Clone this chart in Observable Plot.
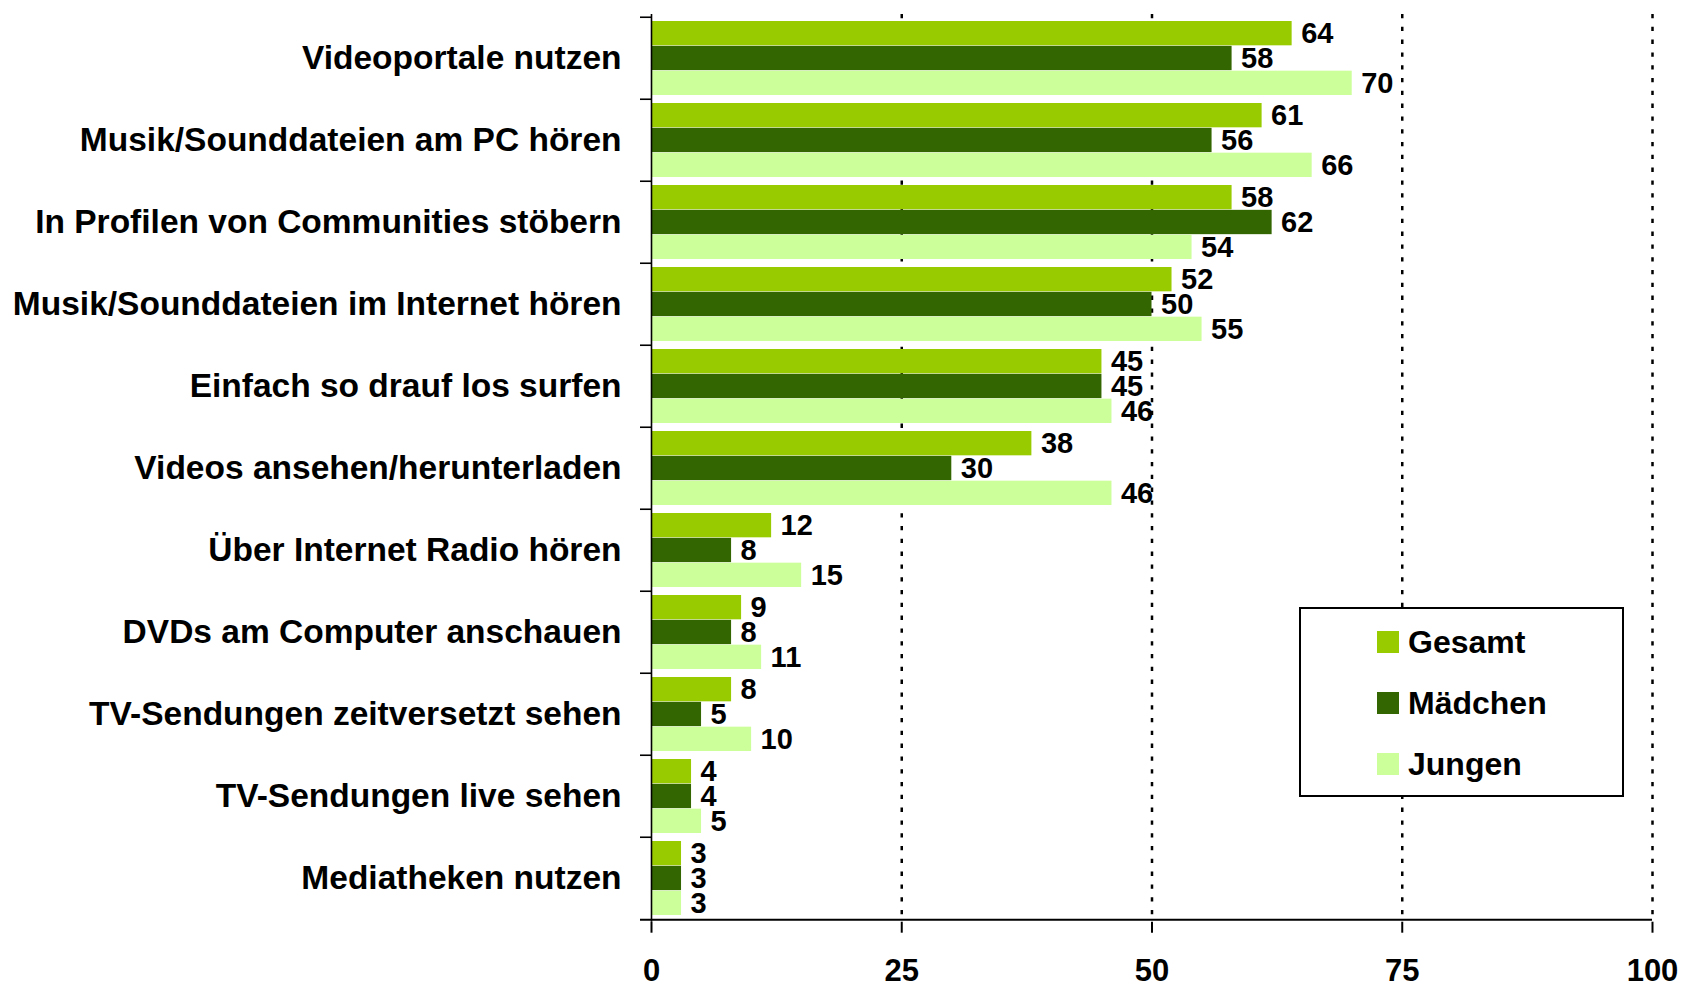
<!DOCTYPE html>
<html><head><meta charset="utf-8">
<script src="https://cdn.jsdelivr.net/npm/d3@7"></script>
<script src="https://cdn.jsdelivr.net/npm/@observablehq/plot@0.6"></script>
<style>
body{margin:0;background:#fff;}
#wrap{position:relative;width:1686px;height:989px;font-family:"Liberation Sans",Arial,sans-serif;}
#legend{position:absolute;left:1299px;top:607px;width:321px;height:184px;border:2px solid #000;background:#fff;padding-top:2px;box-sizing:content-box;}
.row{display:flex;align-items:center;height:61px;padding-left:76px;}
.sw{width:22px;height:22px;margin-right:9px;}
.lab{font-size:32px;font-weight:bold;color:#000;line-height:1;}
</style></head><body><div id="wrap"></div><script>
const categories = [
  "Videoportale nutzen",
  "Musik/Sounddateien am PC hören",
  "In Profilen von Communities stöbern",
  "Musik/Sounddateien im Internet hören",
  "Einfach so drauf los surfen",
  "Videos ansehen/herunterladen",
  "Über Internet Radio hören",
  "DVDs am Computer anschauen",
  "TV-Sendungen zeitversetzt sehen",
  "TV-Sendungen live sehen",
  "Mediatheken nutzen"
];
const series = ["Gesamt", "Mädchen", "Jungen"];
const gesamt   = [64, 61, 58, 52, 45, 38, 12, 9, 8, 4, 3];
const maedchen = [58, 56, 62, 50, 45, 30, 8, 8, 5, 4, 3];
const jungen   = [70, 66, 54, 55, 46, 46, 15, 11, 10, 5, 3];
const colors = ["#99CC00", "#336600", "#CCFF99"];
const xTicks = [0, 25, 50, 75, 100];
const gridTicks = [25, 50, 75, 100];

const values = [gesamt, maedchen, jungen];
const rows = categories.flatMap((c, i) => series.map((s, j) => ({category: c, series: s, value: values[j][i]})));

const width = 1686, height = 989;
const mt = 14, mb = 67.3, ml = 651, mr = 34;
const innerW = width - ml - mr;
const S = (height - mt - mb) / categories.length;
const pad = 4;
const bh = (S - 2 * pad) / 3;
const font = "Liberation Sans, Arial, sans-serif";

const marks = [
  Plot.ruleX(gridTicks, {stroke: "#000", strokeWidth: 2.5, strokeDasharray: "4.3,8.5"})
];
series.forEach((s, j) => {
  const d = rows.filter(r => r.series === s);
  marks.push(Plot.barX(d, {x: "value", y: "category", fill: colors[j],
    insetTop: pad + j * bh, insetBottom: S - pad - (j + 1) * bh}));
});
series.forEach((s, j) => {
  const d = rows.filter(r => r.series === s);
  marks.push(Plot.text(d, {x: "value", y: "category", text: r => String(r.value),
    dx: 9, dy: (j - 1) * bh, textAnchor: "start", fontSize: 29, fontWeight: "bold", fill: "#000"}));
});
marks.push(
  Plot.ruleX([0], {stroke: "#000", strokeWidth: 1.6}),
  Plot.ruleY(categories, {y: d => d, dy: -S / 2, insetLeft: -11, insetRight: innerW, stroke: "#000", strokeWidth: 1.6}),
  Plot.ruleY(categories.slice(-1), {y: d => d, dy: S / 2, insetLeft: -11, stroke: "#000", strokeWidth: 2}),
  Plot.axisY({tickSize: 0, tickPadding: 30, fontSize: 33.5, fontWeight: "bold", label: null}),
  Plot.axisX({ticks: xTicks, tickSize: 11, tickPadding: 26, fontSize: 31, fontWeight: "bold", strokeWidth: 2, label: null})
);

const chart = Plot.plot({
  width, height,
  marginTop: mt, marginBottom: mb, marginLeft: ml, marginRight: mr,
  style: {fontFamily: font, color: "#000", background: "#fff", overflow: "visible"},
  x: {domain: [0, 100], label: null},
  y: {type: "band", domain: categories, padding: 0, label: null},
  marks
});
const wrap = document.getElementById("wrap");
wrap.appendChild(chart);

const legend = document.createElement("div");
legend.id = "legend";
series.forEach((s, j) => {
  const row = document.createElement("div");
  row.className = "row";
  const sw = document.createElement("div");
  sw.className = "sw";
  sw.style.background = colors[j];
  const lab = document.createElement("span");
  lab.className = "lab";
  lab.textContent = s;
  row.appendChild(sw); row.appendChild(lab);
  legend.appendChild(row);
});
wrap.appendChild(legend);
</script></body></html>
